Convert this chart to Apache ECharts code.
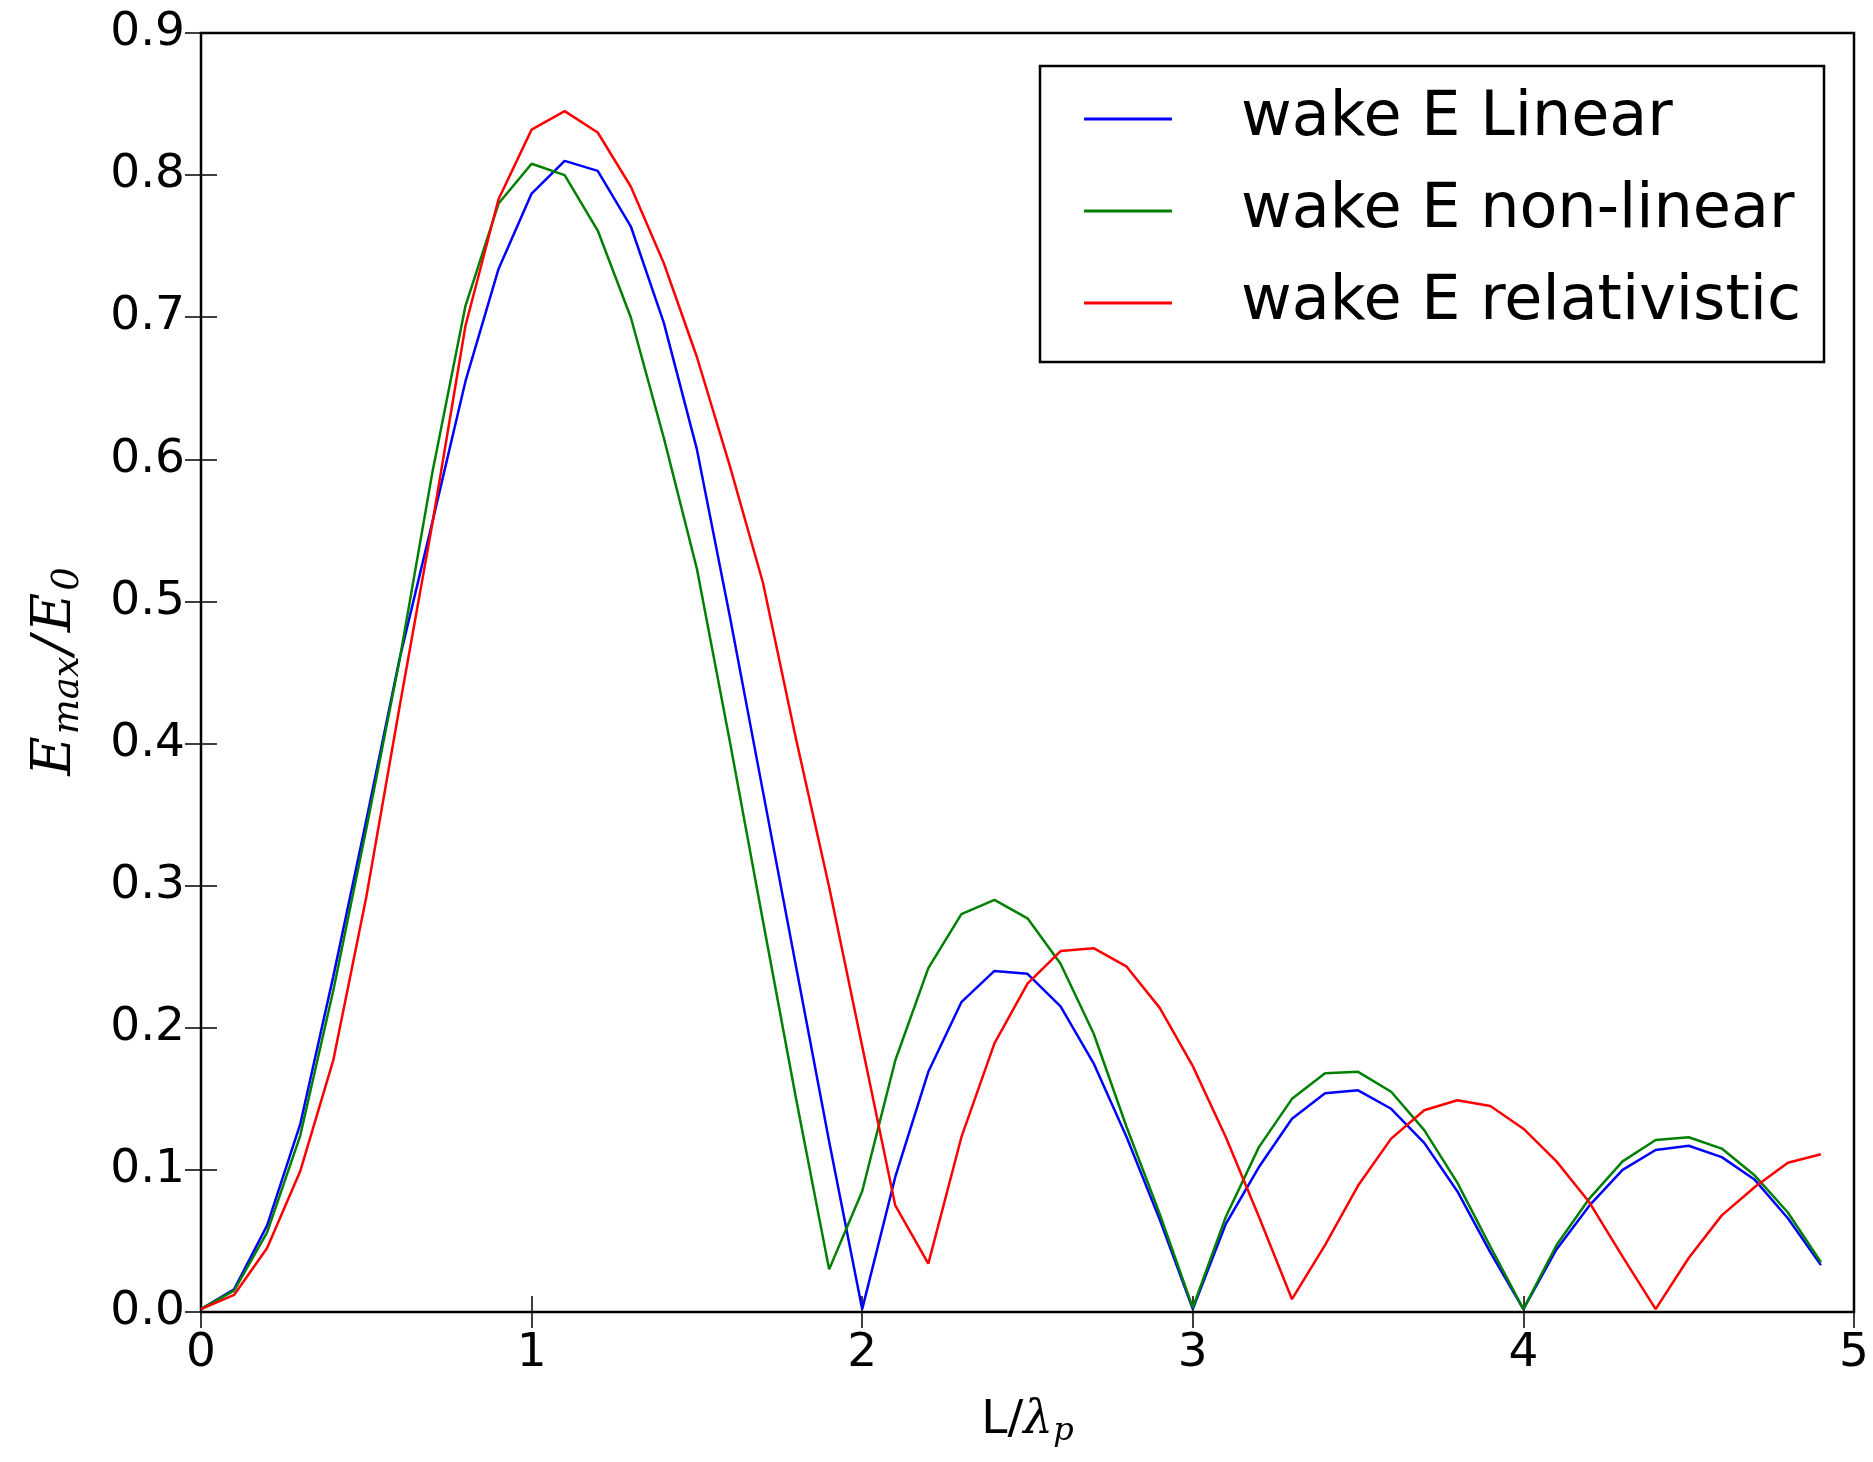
<!DOCTYPE html>
<html>
<head>
<meta charset="utf-8">
<script src="https://cdn.jsdelivr.net/npm/echarts@6/dist/echarts.min.js"></script>
<style>
  html, body { margin: 0; padding: 0; background: #fff; }
  #chart { width: 1873px; height: 1462px; }
</style>
</head>
<body>
<div id="chart"></div>
<script>
// L / lambda_p sample points
const xValues = [0.0, 0.1, 0.2, 0.3, 0.4, 0.5, 0.6, 0.7, 0.8, 0.9,
  1.0, 1.1, 1.2, 1.3, 1.4, 1.5, 1.6, 1.7, 1.8, 1.9,
  2.0, 2.1, 2.2, 2.3, 2.4, 2.5, 2.6, 2.7, 2.8, 2.9,
  3.0, 3.1, 3.2, 3.3, 3.4, 3.5, 3.6, 3.7, 3.8, 3.9,
  4.0, 4.1, 4.2, 4.3, 4.4, 4.5, 4.6, 4.7, 4.8, 4.9];

const wakeLinear = [0.002, 0.016, 0.061, 0.132, 0.236, 0.346, 0.459, 0.556, 0.655, 0.734,
  0.787, 0.810, 0.803, 0.764, 0.696, 0.607, 0.489, 0.366, 0.243, 0.120,
  0.002, 0.095, 0.169, 0.218, 0.240, 0.238, 0.215, 0.175, 0.123, 0.065,
  0.002, 0.062, 0.102, 0.136, 0.154, 0.156, 0.143, 0.119, 0.085, 0.042,
  0.002, 0.044, 0.075, 0.100, 0.114, 0.117, 0.109, 0.093, 0.066, 0.033];

const wakeNonLinear = [0.002, 0.015, 0.056, 0.124, 0.226, 0.340, 0.458, 0.591, 0.708, 0.780,
  0.808, 0.800, 0.761, 0.700, 0.615, 0.523, 0.401, 0.275, 0.150, 0.030,
  0.085, 0.177, 0.242, 0.280, 0.290, 0.277, 0.245, 0.196, 0.130, 0.069,
  0.003, 0.067, 0.116, 0.150, 0.168, 0.169, 0.155, 0.128, 0.091, 0.046,
  0.002, 0.047, 0.080, 0.106, 0.121, 0.123, 0.115, 0.096, 0.070, 0.035];

const wakeRelativistic = [0.002, 0.012, 0.045, 0.099, 0.177, 0.292, 0.425, 0.555, 0.694, 0.783,
  0.832, 0.845, 0.830, 0.792, 0.738, 0.672, 0.595, 0.513, 0.403, 0.299,
  0.187, 0.075, 0.034, 0.123, 0.189, 0.231, 0.254, 0.256, 0.243, 0.214,
  0.173, 0.123, 0.067, 0.009, 0.047, 0.089, 0.122, 0.142, 0.149, 0.145,
  0.129, 0.106, 0.077, 0.039, 0.002, 0.038, 0.068, 0.088, 0.105, 0.111];

const seriesNames = ['wake E Linear', 'wake E non-linear', 'wake E relativistic'];
const seriesColors = ['#0000ff', '#008000', '#ff0000'];

const chart = echarts.init(document.getElementById('chart'));

const pairs = (ys) => xValues.map((x, i) => [x, ys[i]]);
const tickFont = { color: '#000', fontFamily: 'DejaVu Sans', fontSize: 47 };
const inTick = { show: true, inside: true, length: 16, lineStyle: { color: '#000', width: 1.5 } };
const mathFont = 'DejaVu Serif';

const option = {
  backgroundColor: '#fff',
  animation: false,
  grid: {
    left: 201, right: 19, top: 33, bottom: 150,
    show: true, borderColor: '#000', borderWidth: 2.5, backgroundColor: 'transparent'
  },
  legend: {
    orient: 'vertical',
    right: 49, top: 66,
    data: seriesNames,
    icon: 'rect',
    itemWidth: 88, itemHeight: 3,
    itemGap: 30,
    padding: [22, 23, 28, 44],
    borderColor: '#000', borderWidth: 2.5, borderRadius: 0,
    backgroundColor: '#fff',
    textStyle: { color: '#000', fontFamily: 'DejaVu Sans', fontSize: 62, padding: [0, 0, 0, 64] }
  },
  xAxis: [{
    type: 'value', min: 0, max: 5, interval: 1,
    axisLine: { show: false }, splitLine: { show: false },
    axisTick: inTick,
    axisLabel: Object.assign({ margin: 18 }, tickFont),
    name: '{t|L/}{l|λ}{s|p}',
    nameLocation: 'middle', nameGap: 82,
    nameTextStyle: {
      rich: {
        t: { fontFamily: 'DejaVu Sans', fontSize: 47, color: '#000' },
        l: { fontFamily: mathFont, fontStyle: 'italic', fontSize: 47, color: '#000' },
        s: { fontFamily: mathFont, fontStyle: 'italic', fontSize: 32, color: '#000', padding: [22, 0, 0, 0] }
      }
    }
  }, {
    type: 'value', min: 0, max: 5, interval: 1, position: 'top',
    axisLine: { show: false }, splitLine: { show: false },
    axisTick: inTick, axisLabel: { show: false }
  }],
  yAxis: [{
    type: 'value', min: 0, max: 0.9, interval: 0.1,
    axisLine: { show: false }, splitLine: { show: false },
    axisTick: inTick,
    axisLabel: Object.assign({ margin: 16, formatter: (v) => v.toFixed(1) }, tickFont),
    name: '{e|E}{s|max}{e|/}{e|E}{s|0}',
    nameLocation: 'middle', nameGap: 114, nameRotate: 90,
    nameTextStyle: {
      rich: {
        e: { fontFamily: mathFont, fontStyle: 'italic', fontSize: 54, color: '#000', padding: [0, 2, 0, 2] },
        s: { fontFamily: mathFont, fontStyle: 'italic', fontSize: 37, color: '#000', padding: [26, 0, 0, 0] }
      }
    }
  }, {
    type: 'value', min: 0, max: 0.9, interval: 0.1, position: 'right',
    axisLine: { show: false }, splitLine: { show: false },
    axisTick: inTick, axisLabel: { show: false }
  }],
  series: [wakeLinear, wakeNonLinear, wakeRelativistic].map((ys, k) => ({
    name: seriesNames[k],
    type: 'line',
    xAxisIndex: 0, yAxisIndex: 0,
    data: pairs(ys),
    symbol: 'none',
    color: seriesColors[k],
    lineStyle: { color: seriesColors[k], width: 2.5 },
    itemStyle: { color: seriesColors[k] }
  }))
};

chart.setOption(option);
</script>
</body>
</html>
